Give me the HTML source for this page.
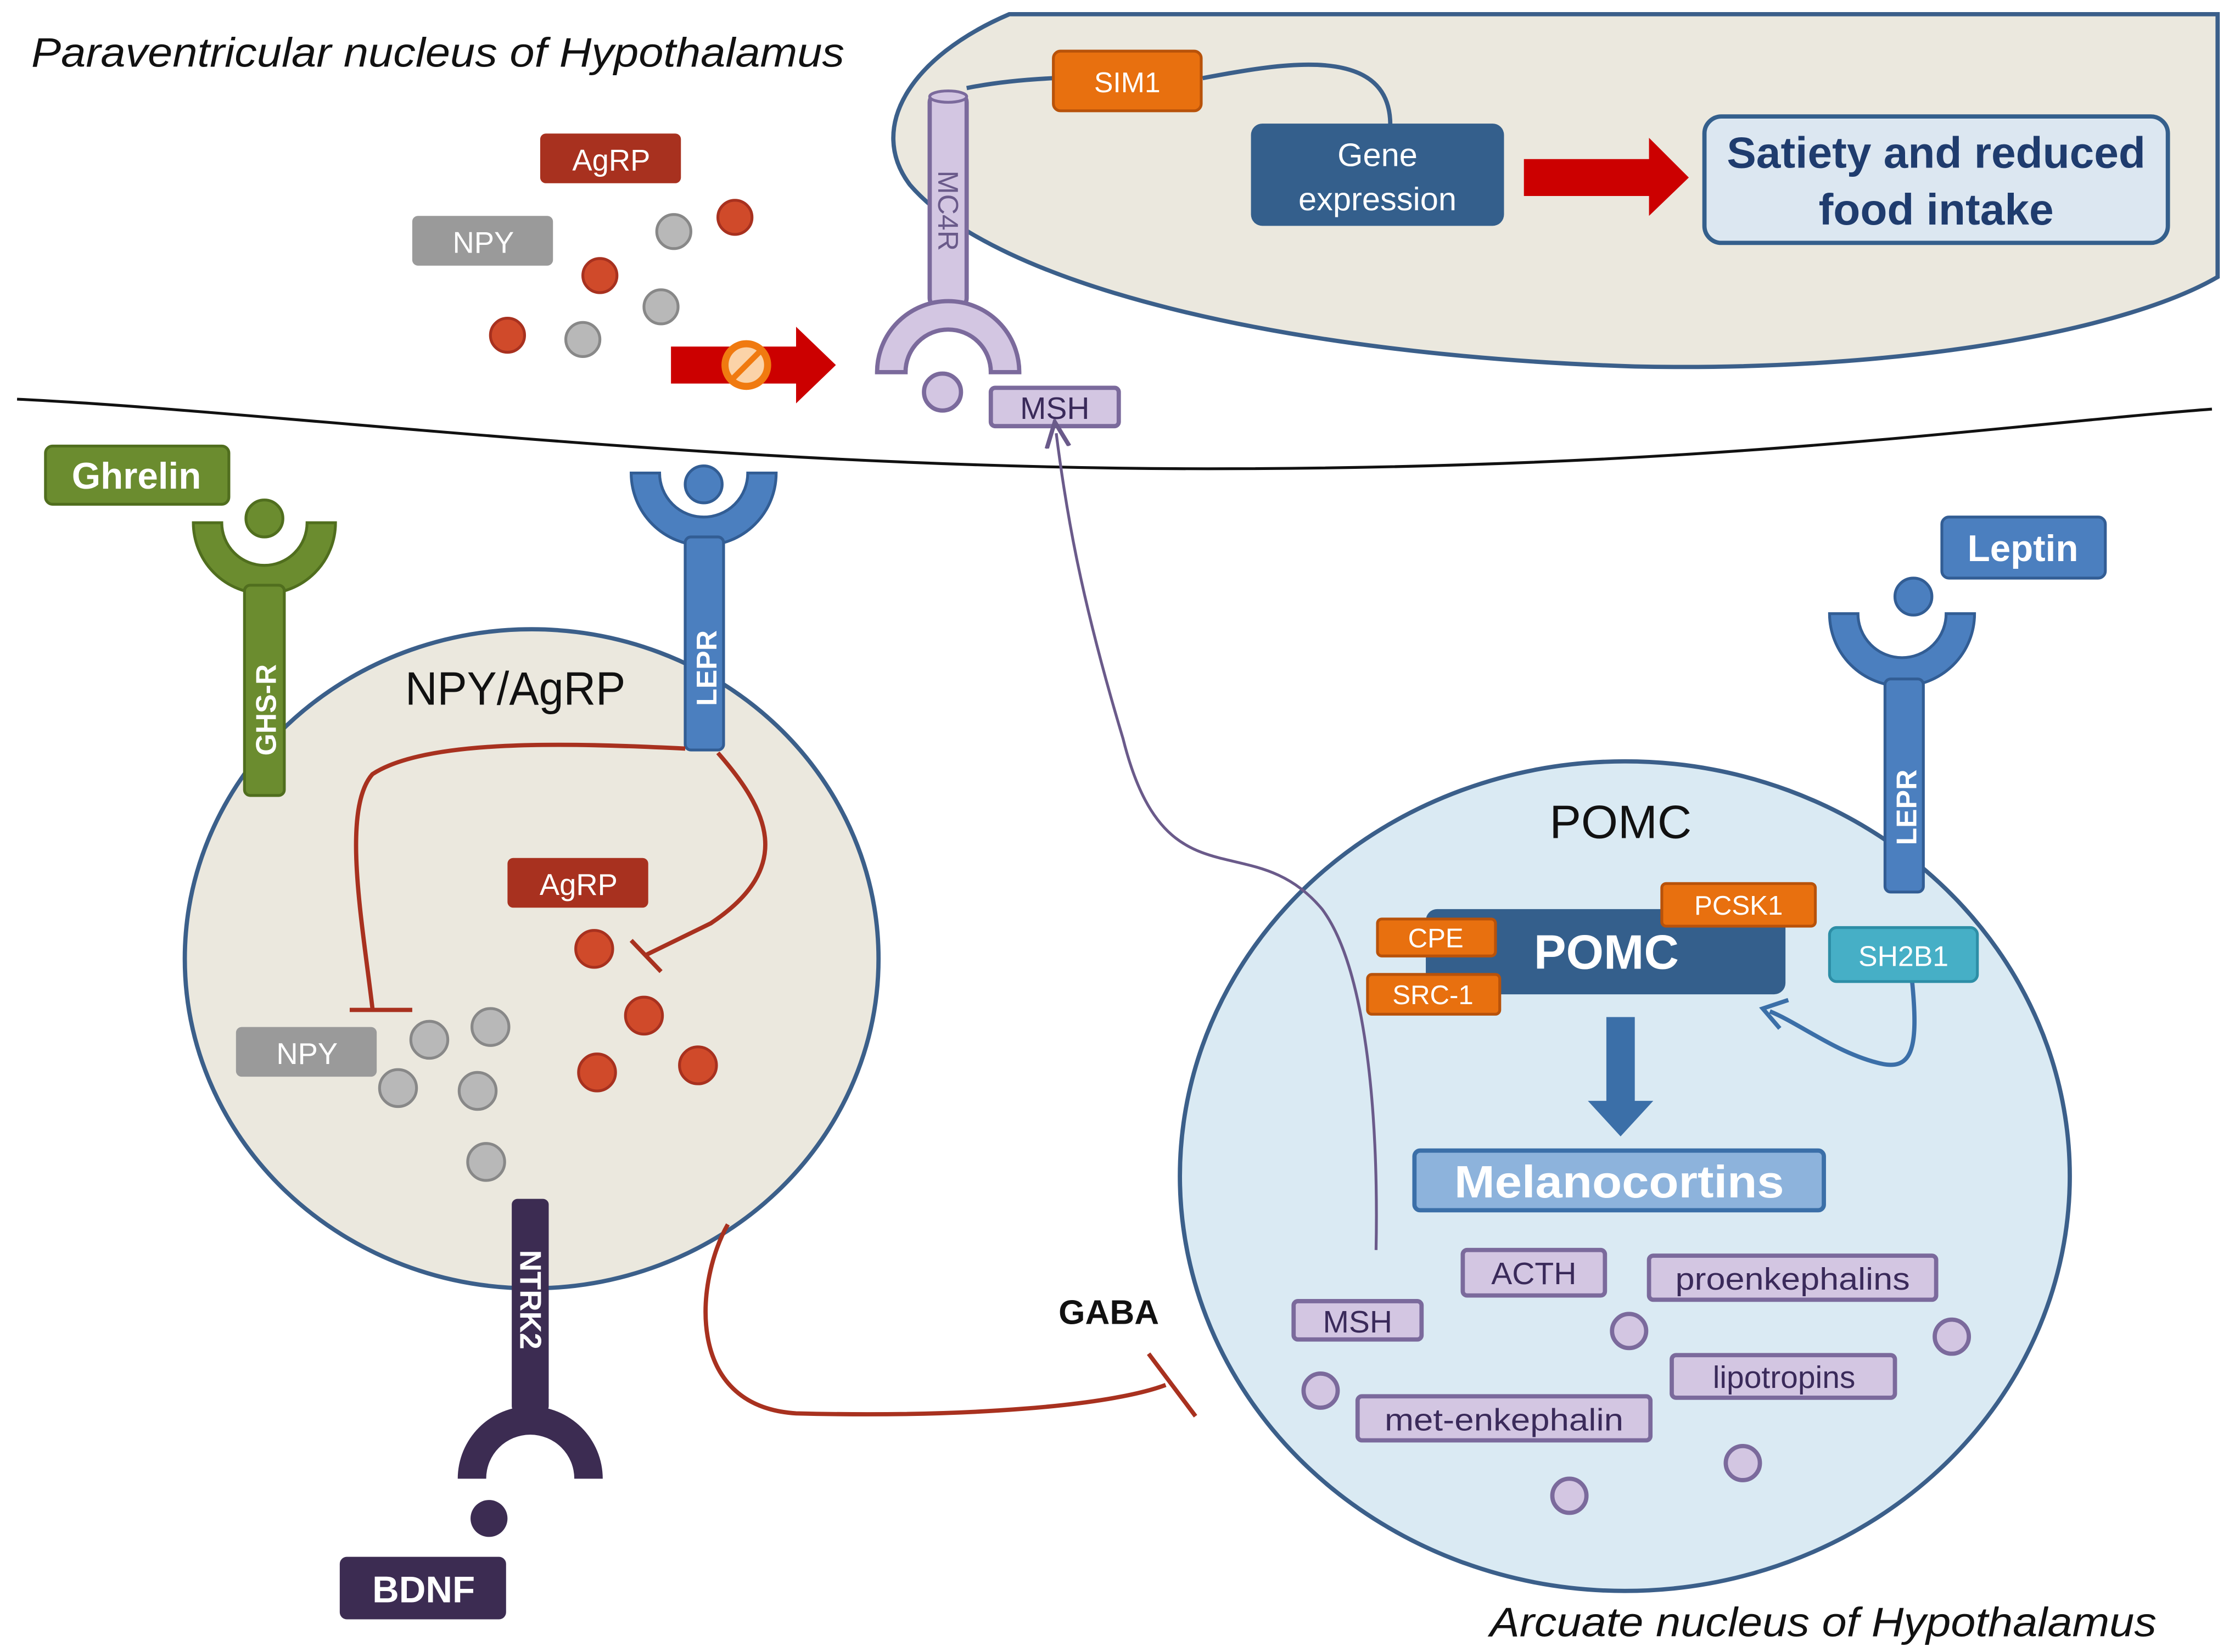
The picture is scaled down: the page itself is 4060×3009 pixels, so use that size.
<!DOCTYPE html>
<html><head><meta charset="utf-8"><style>
html,body{margin:0;padding:0;background:#fff;}
svg{display:block;}
text{font-family:"Liberation Sans Narrow","Liberation Sans",sans-serif;}
</style></head><body>
<svg width="4060" height="3009" viewBox="0 0 1568 1163" preserveAspectRatio="none" xmlns="http://www.w3.org/2000/svg">
<defs>
<marker id="ah" markerWidth="10" markerHeight="10" refX="5" refY="5" orient="auto"><path d="M0,1 L9,5 L0,9" fill="none" stroke="#6a5a8a" stroke-width="1.5"/></marker>
</defs>
<path d="M710,10 C640,40 610,90 640,130 C700,200 900,250 1150,258 C1350,262 1500,230 1560,195 L1560,10 Z" fill="#ebe8de" stroke="#3b5f8a" stroke-width="3"/>
<text x="22" y="47" font-size="29" font-style="italic" fill="#111" textLength="572" lengthAdjust="spacingAndGlyphs">Paraventricular nucleus of Hypothalamus</text>
<path d="M12,281 C200,290 500,330 850,330 C1200,330 1400,300 1556,288" fill="none" stroke="#111" stroke-width="2"/>
<ellipse cx="374" cy="675" rx="244" ry="232" fill="#ebe8de" stroke="#3b5f8a" stroke-width="3"/>
<ellipse cx="1143" cy="828" rx="313" ry="292" fill="#daeaf3" stroke="#3b5f8a" stroke-width="3"/>
<text x="285" y="496" font-size="33" fill="#111" textLength="155" lengthAdjust="spacingAndGlyphs">NPY/AgRP</text>
<text x="1090" y="590" font-size="33" fill="#111" textLength="100" lengthAdjust="spacingAndGlyphs">POMC</text>
<rect x="654" y="66" width="26" height="150" rx="6" fill="#d3c6e2" stroke="#7b6a9c" stroke-width="3"/>
<ellipse cx="667" cy="68" rx="13" ry="4" fill="#d3c6e2" stroke="#7b6a9c" stroke-width="2"/>
<text transform="translate(660,120) rotate(90)" font-size="20" fill="#6a5a8a">MC4R</text>
<path d="M617,262 A50,50 0 0 1 717,262 L697,262 A30,30 0 0 0 637,262 Z" fill="#d3c6e2" stroke="#7b6a9c" stroke-width="3"/>
<circle cx="663" cy="276" r="13" fill="#d3c6e2" stroke="#7b6a9c" stroke-width="3"/>
<rect x="697" y="273" width="90" height="27" rx="3" fill="#d3c6e2" stroke="#7b6a9c" stroke-width="3"/>
<text x="742" y="295" font-size="22" fill="#3a2a5a" text-anchor="middle">MSH</text>
<path d="M680,62 C700,58 720,56 742,55 M846,55 C900,45 978,30 978,88" fill="none" stroke="#3b5f8a" stroke-width="3"/>
<rect x="741" y="36" width="104" height="42" rx="5" fill="#e8700f" stroke="#b8520a" stroke-width="2"/>
<text x="793" y="65" font-size="20" fill="#fff" text-anchor="middle">SIM1</text>
<rect x="880" y="87" width="178" height="72" rx="8" fill="#345f8c"/>
<text x="969" y="117" font-size="23" fill="#fff" text-anchor="middle">Gene</text>
<text x="969" y="148" font-size="23" fill="#fff" text-anchor="middle">expression</text>
<path d="M1072,112 L1160,112 L1160,97 L1188,125 L1160,152 L1160,138 L1072,138 Z" fill="#cc0000"/>
<rect x="1199" y="82" width="326" height="89" rx="12" fill="#dce7f1" stroke="#345f8c" stroke-width="3"/>
<text x="1362" y="118" font-size="31" font-weight="bold" fill="#1f3c6e" text-anchor="middle">Satiety and reduced</text>
<text x="1362" y="158" font-size="31" font-weight="bold" fill="#1f3c6e" text-anchor="middle">food intake</text>
<rect x="380" y="94" width="99" height="35" rx="4" fill="#a8311f"/>
<text x="430" y="120" font-size="21" fill="#fff" text-anchor="middle">AgRP</text>
<rect x="290" y="152" width="99" height="35" rx="4" fill="#9a9a9a"/>
<text x="340" y="178" font-size="21" fill="#fff" text-anchor="middle">NPY</text>
<g fill="#d04a2a" stroke="#a8311f" stroke-width="2">
<circle cx="517" cy="153" r="12"/><circle cx="422" cy="194" r="12"/><circle cx="357" cy="236" r="12"/>
<circle cx="418" cy="668" r="13"/><circle cx="453" cy="715" r="13"/><circle cx="420" cy="755" r="13"/><circle cx="491" cy="750" r="13"/>
</g>
<g fill="#b8b8b8" stroke="#888" stroke-width="2">
<circle cx="474" cy="163" r="12"/><circle cx="465" cy="216" r="12"/><circle cx="410" cy="239" r="12"/>
<circle cx="302" cy="732" r="13"/><circle cx="345" cy="723" r="13"/><circle cx="280" cy="766" r="13"/><circle cx="336" cy="768" r="13"/><circle cx="342" cy="818" r="13"/>
</g>
<path d="M472,244 L560,244 L560,230 L588,257 L560,284 L560,270 L472,270 Z" fill="#cc0000"/>
<circle cx="525" cy="257" r="15" fill="#fbd3a8" stroke="#f07a10" stroke-width="5"/>
<line x1="515" y1="267" x2="535" y2="247" stroke="#f07a10" stroke-width="4"/>
<rect x="32" y="314" width="129" height="41" rx="5" fill="#6b8c2f" stroke="#506e1e" stroke-width="2"/>
<text x="96" y="344" font-size="26" font-weight="bold" fill="#fff" text-anchor="middle">Ghrelin</text>
<path d="M136,368 A50,50 0 0 0 236,368 L216,368 A30,30 0 0 1 156,368 Z" fill="#6b8c2f" stroke="#506e1e" stroke-width="2"/>
<circle cx="186" cy="365" r="13" fill="#6b8c2f" stroke="#506e1e" stroke-width="2"/>
<rect x="172" y="412" width="28" height="148" rx="4" fill="#6b8c2f" stroke="#506e1e" stroke-width="2"/>
<text transform="translate(194,532) rotate(-90)" font-size="20" font-weight="bold" fill="#fff">GHS-R</text>
<path d="M444,333 A51,51 0 0 0 546,333 L526,333 A31,31 0 0 1 464,333 Z" fill="#4b7fbf" stroke="#325d94" stroke-width="2"/>
<circle cx="495" cy="341" r="13" fill="#4b7fbf" stroke="#325d94" stroke-width="2"/>
<rect x="482" y="378" width="27" height="150" rx="4" fill="#4b7fbf" stroke="#325d94" stroke-width="2"/>
<text transform="translate(504,497) rotate(-90)" font-size="20" font-weight="bold" fill="#fff">LEPR</text>
<path d="M482,527 C400,523 300,520 262,545 C240,570 255,650 262,710" fill="none" stroke="#a8311f" stroke-width="3"/>
<line x1="246" y1="711" x2="290" y2="711" stroke="#a8311f" stroke-width="3"/>
<path d="M505,530 C540,570 560,610 500,650 L455,672" fill="none" stroke="#a8311f" stroke-width="3"/>
<line x1="444" y1="662" x2="465" y2="684" stroke="#a8311f" stroke-width="3"/>
<rect x="357" y="604" width="99" height="35" rx="4" fill="#a8311f"/>
<text x="407" y="630" font-size="21" fill="#fff" text-anchor="middle">AgRP</text>
<rect x="166" y="723" width="99" height="35" rx="4" fill="#9a9a9a"/>
<text x="216" y="749" font-size="21" fill="#fff" text-anchor="middle">NPY</text>
<rect x="360" y="844" width="26" height="150" rx="4" fill="#3c2c52"/>
<text transform="translate(366,880) rotate(90)" font-size="21" font-weight="bold" fill="#fff">NTRK2</text>
<path d="M322,1041 A51,51 0 0 1 424,1041 L404,1041 A31,31 0 0 0 342,1041 Z" fill="#3c2c52"/>
<circle cx="344" cy="1069" r="13" fill="#3c2c52"/>
<rect x="239" y="1096" width="117" height="44" rx="5" fill="#3c2c52"/>
<text x="298" y="1128" font-size="26" font-weight="bold" fill="#fff" text-anchor="middle">BDNF</text>
<path d="M512,862 C490,900 480,990 560,995 C680,998 780,990 820,975" fill="none" stroke="#a8311f" stroke-width="3"/>
<line x1="808" y1="953" x2="841" y2="997" stroke="#a8311f" stroke-width="3"/>
<text x="780" y="932" font-size="24" font-weight="bold" fill="#111" text-anchor="middle">GABA</text>
<path d="M968,880 C970,780 960,680 930,640 C880,580 820,640 790,520 C760,420 750,360 743,305" fill="none" stroke="#6a5a8a" stroke-width="2" marker-end="url(#ah)"/>
<rect x="1366" y="364" width="115" height="43" rx="5" fill="#4b7fbf" stroke="#325d94" stroke-width="2"/>
<text x="1423" y="395" font-size="26" font-weight="bold" fill="#fff" text-anchor="middle">Leptin</text>
<path d="M1287,432 A51,51 0 0 0 1389,432 L1369,432 A31,31 0 0 1 1307,432 Z" fill="#4b7fbf" stroke="#325d94" stroke-width="2"/>
<circle cx="1346" cy="420" r="13" fill="#4b7fbf" stroke="#325d94" stroke-width="2"/>
<rect x="1326" y="478" width="27" height="150" rx="4" fill="#4b7fbf" stroke="#325d94" stroke-width="2"/>
<text transform="translate(1348,595) rotate(-90)" font-size="20" font-weight="bold" fill="#fff">LEPR</text>
<path d="M1345,690 C1350,740 1345,755 1320,748 C1290,740 1265,720 1245,712" fill="none" stroke="#3b6fa8" stroke-width="3"/>
<path d="M1258,704 L1240,710 L1252,724" fill="none" stroke="#3b6fa8" stroke-width="3"/>
<rect x="1287" y="653" width="104" height="38" rx="5" fill="#46afc6" stroke="#2d8ea6" stroke-width="2"/>
<text x="1339" y="680" font-size="20" fill="#fff" text-anchor="middle">SH2B1</text>
<rect x="1003" y="640" width="253" height="60" rx="8" fill="#345f8c"/>
<text x="1130" y="682" font-size="34" font-weight="bold" fill="#fff" text-anchor="middle">POMC</text>
<rect x="1169" y="622" width="108" height="30" rx="3" fill="#e8700f" stroke="#b8520a" stroke-width="2"/>
<text x="1223" y="644" font-size="19" fill="#fff" text-anchor="middle">PCSK1</text>
<rect x="969" y="647" width="83" height="26" rx="3" fill="#e8700f" stroke="#b8520a" stroke-width="2"/>
<text x="1010" y="667" font-size="19" fill="#fff" text-anchor="middle">CPE</text>
<rect x="962" y="686" width="93" height="28" rx="3" fill="#e8700f" stroke="#b8520a" stroke-width="2"/>
<text x="1008" y="707" font-size="19" fill="#fff" text-anchor="middle">SRC-1</text>
<path d="M1130,716 L1150,716 L1150,775 L1163,775 L1140,800 L1117,775 L1130,775 Z" fill="#3b6fa8"/>
<rect x="995" y="810" width="288" height="42" rx="4" fill="#8db3dc" stroke="#3b6fa8" stroke-width="3"/>
<text x="1139" y="843" font-size="32" font-weight="bold" fill="#fff" text-anchor="middle" textLength="232" lengthAdjust="spacingAndGlyphs">Melanocortins</text>
<g fill="#d3c6e2" stroke="#7b6a9c" stroke-width="3">
<rect x="910" y="916" width="90" height="27" rx="3"/>
<rect x="1029" y="880" width="100" height="32" rx="3"/>
<rect x="1160" y="884" width="202" height="31" rx="3"/>
<rect x="1176" y="954" width="157" height="30" rx="3"/>
<rect x="955" y="983" width="206" height="31" rx="3"/>
<circle cx="1146" cy="937" r="12"/><circle cx="1373" cy="941" r="12"/><circle cx="929" cy="979" r="12"/><circle cx="1226" cy="1030" r="12"/><circle cx="1104" cy="1053" r="12"/>
</g>
<g font-size="22" fill="#3a2a5a" text-anchor="middle">
<text x="955" y="938">MSH</text><text x="1079" y="904">ACTH</text><text x="1261" y="908" textLength="165" lengthAdjust="spacingAndGlyphs">proenkephalins</text>
<text x="1255" y="977">lipotropins</text><text x="1058" y="1007" textLength="168" lengthAdjust="spacingAndGlyphs">met-enkephalin</text>
</g>
<text x="1048" y="1152" font-size="29" font-style="italic" fill="#111" textLength="469" lengthAdjust="spacingAndGlyphs">Arcuate nucleus of Hypothalamus</text>
</svg>
</body></html>
